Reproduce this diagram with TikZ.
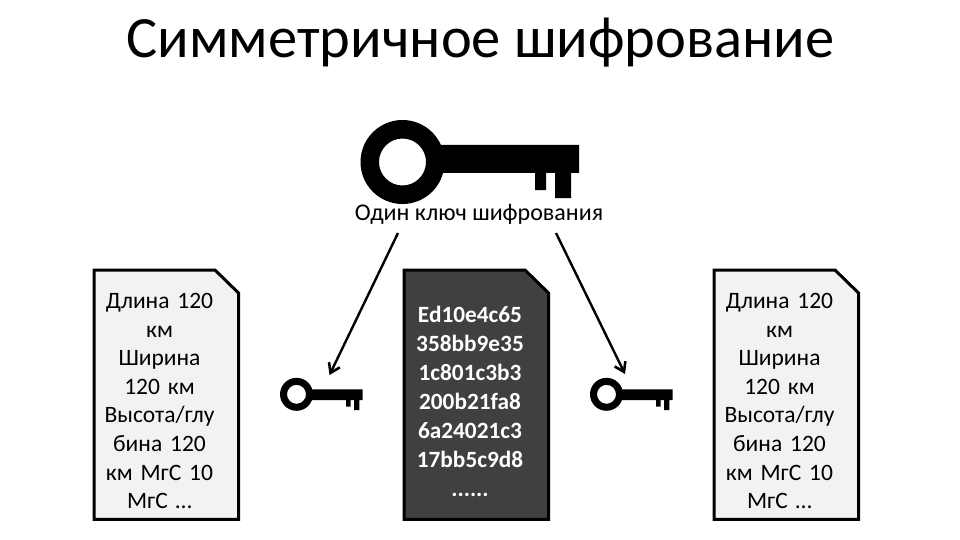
\documentclass[tikz,border=0pt]{standalone}
\usepackage{fontspec}
\setmainfont{Carlito}
\newfontfamily\tightspace[WordSpace=0.75]{Carlito}
\usetikzlibrary{arrows.meta}
\definecolor{docgray}{HTML}{F2F2F2}
\definecolor{docdark}{HTML}{404040}
\tikzset{
  x=1pt,y=-1pt,
  docpaper/.style={draw=black,line width=3pt,miter limit=10},
  doctext/.style={align=center,text width=140pt,inner sep=0pt,font=\tightspace\fontsize{23.5}{28.6}\selectfont},
  cipher/.style={align=center,text width=140pt,inner sep=0pt,text=white,font=\fontsize{23.3}{28.9}\selectfont\bfseries},
  link/.style={draw=black,line width=2.4pt,-{Straight Barb[length=9pt,width=12pt,line width=2.6pt]}},
  pics/keyicon/.style={code={
    \fill[black,even odd rule] (42,42) circle[radius=42] (42,42) circle[radius=23.5];
    \fill[black] (78,25) rectangle (218.5,53)
      (174.5,52) rectangle (185.5,70)
      (194.5,52) rectangle (210.5,78);
  }},
  pics/smallkeyicon/.style={code={
    \fill[black,even odd rule] (16.5,16.5) circle[radius=16.5] (16.5,16.5) circle[radius=9.5];
    \fill[black] (30,11.5) rectangle (82.7,22.2)
      (66,22) rectangle (70.7,28.9)
      (74,22) rectangle (79.3,32.2);
  }}
}
\newcommand{\docshape}[2]{%
  \draw[docpaper,fill=#2] (#1,270) -- ++(121,0) -- ++(23.5,23) -- ++(0,226.3) -- ++(-144.5,0) -- cycle;}
\begin{document}
\begin{tikzpicture}
\useasboundingbox (0,0) rectangle (960,540);
\node[inner sep=0pt,font=\fontsize{58.5}{66}\selectfont] (title) at (480.5,43) {Симметричное шифрование};
\pic at (360.5,120) {keyicon};
\node[inner sep=0pt,font=\fontsize{24}{28}\selectfont] (keylabel) at (479,214) {Один ключ шифрования};
\docshape{94}{docgray}
\docshape{404}{docdark}
\docshape{714}{docgray}
\node[doctext] (leftdoc) at (159.5,401) {Длина 120\\км\\Ширина\\120 км\\Высота/глу\\бина 120\\км МгС 10\\МгС …};
\node[cipher] (middoc) at (470,401.5) {Ed10e4c65\\358bb9e35\\1c801c3b3\\200b21fa8\\6a24021c3\\17bb5c9d8\\......};
\node[doctext] (rightdoc) at (779.5,401) {Длина 120\\км\\Ширина\\120 км\\Высота/глу\\бина 120\\км МгС 10\\МгС …};
\pic at (280,377.8) {smallkeyicon};
\pic at (590,377.8) {smallkeyicon};
\coordinate (la) at (398,233);
\coordinate (lb) at (329.5,375);
\coordinate (ra) at (556,233);
\coordinate (rb) at (625,374);
\draw[link] (la) -- (lb);
\draw[link] (ra) -- (rb);
\end{tikzpicture}
\end{document}
